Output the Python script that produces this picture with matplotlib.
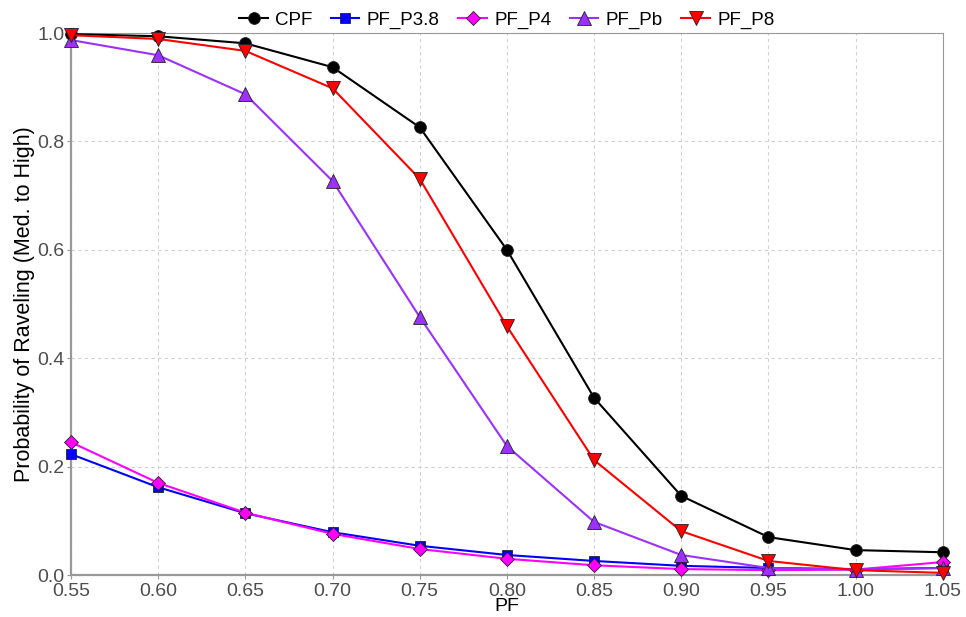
import numpy as np
import matplotlib.pyplot as plt

plt.rcParams['font.family'] = ['Liberation Sans', 'DejaVu Sans']

pf = [0.55, 0.60, 0.65, 0.70, 0.75, 0.80, 0.85, 0.90, 0.95, 1.00, 1.05]
cpf = [0.998, 0.994, 0.981, 0.937, 0.826, 0.600, 0.327, 0.146, 0.070, 0.046, 0.042]
pf_p38 = [0.223, 0.162, 0.114, 0.079, 0.054, 0.037, 0.026, 0.017, 0.013, 0.011, 0.013]
pf_p4 = [0.245, 0.170, 0.115, 0.076, 0.048, 0.030, 0.018, 0.011, 0.009, 0.010, 0.024]
pf_pb = [0.987, 0.959, 0.887, 0.727, 0.476, 0.238, 0.098, 0.037, 0.013, 0.010, 0.013]
pf_p8 = [0.996, 0.989, 0.967, 0.898, 0.731, 0.459, 0.212, 0.081, 0.026, 0.009, 0.004]

series = [
    ('CPF', cpf, 'black', 'o', 8.5),
    ('PF_P3.8', pf_p38, 'blue', 's', 7),
    ('PF_P4', pf_p4, 'magenta', 'D', 7.5),
    ('PF_Pb', pf_pb, '#9B30FF', '^', 10),
    ('PF_P8', pf_p8, 'red', 'v', 10),
]

fig = plt.figure(figsize=(9.66, 6.17), dpi=100)
ax = fig.add_axes([0.0735, 0.068, 0.9025, 0.8785])

for name, vals, col, mk, ms in series:
    ax.plot(pf, vals, color=col, lw=1.5, marker=mk, markersize=ms,
            markerfacecolor=col, markeredgecolor='#222222', markeredgewidth=0.6,
            label=name, clip_on=False, zorder=3)

ax.set_xlim(0.55, 1.05)
ax.set_ylim(0, 1.0)
ax.set_xticks(pf)
ax.set_xticklabels(['%.2f' % v for v in pf])
ax.set_yticks([0, 0.2, 0.4, 0.6, 0.8, 1.0])
ax.set_yticklabels(['0.0', '0.2', '0.4', '0.6', '0.8', '1.0'])
ax.grid(True, color='#D0D0D0', linestyle=(0, (3, 3)), lw=0.8)
ax.set_axisbelow(True)
for s in ['top', 'right']:
    ax.spines[s].set_color('#999999')
    ax.spines[s].set_linewidth(0.8)
for s in ['left', 'bottom']:
    ax.spines[s].set_color('#999999')
    ax.spines[s].set_linewidth(1.6)
ax.tick_params(colors='#999999', labelcolor='#4D4D4D', labelsize=14, length=3)
ax.tick_params(axis='x', pad=2.5)
ax.tick_params(axis='y', pad=1.5)
ax.set_xlabel('PF', fontsize=14, labelpad=-1)
ax.set_ylabel('Probability of Raveling (Med. to High)', fontsize=15.5, labelpad=2)

ax.legend(loc='lower center', bbox_to_anchor=(0.5, 1.006), ncol=5, frameon=False,
          fontsize=13.5, handlelength=1.5, handletextpad=0.4, columnspacing=1.0,
          borderaxespad=0, borderpad=0.05)

plt.savefig('out.png', dpi=100)
